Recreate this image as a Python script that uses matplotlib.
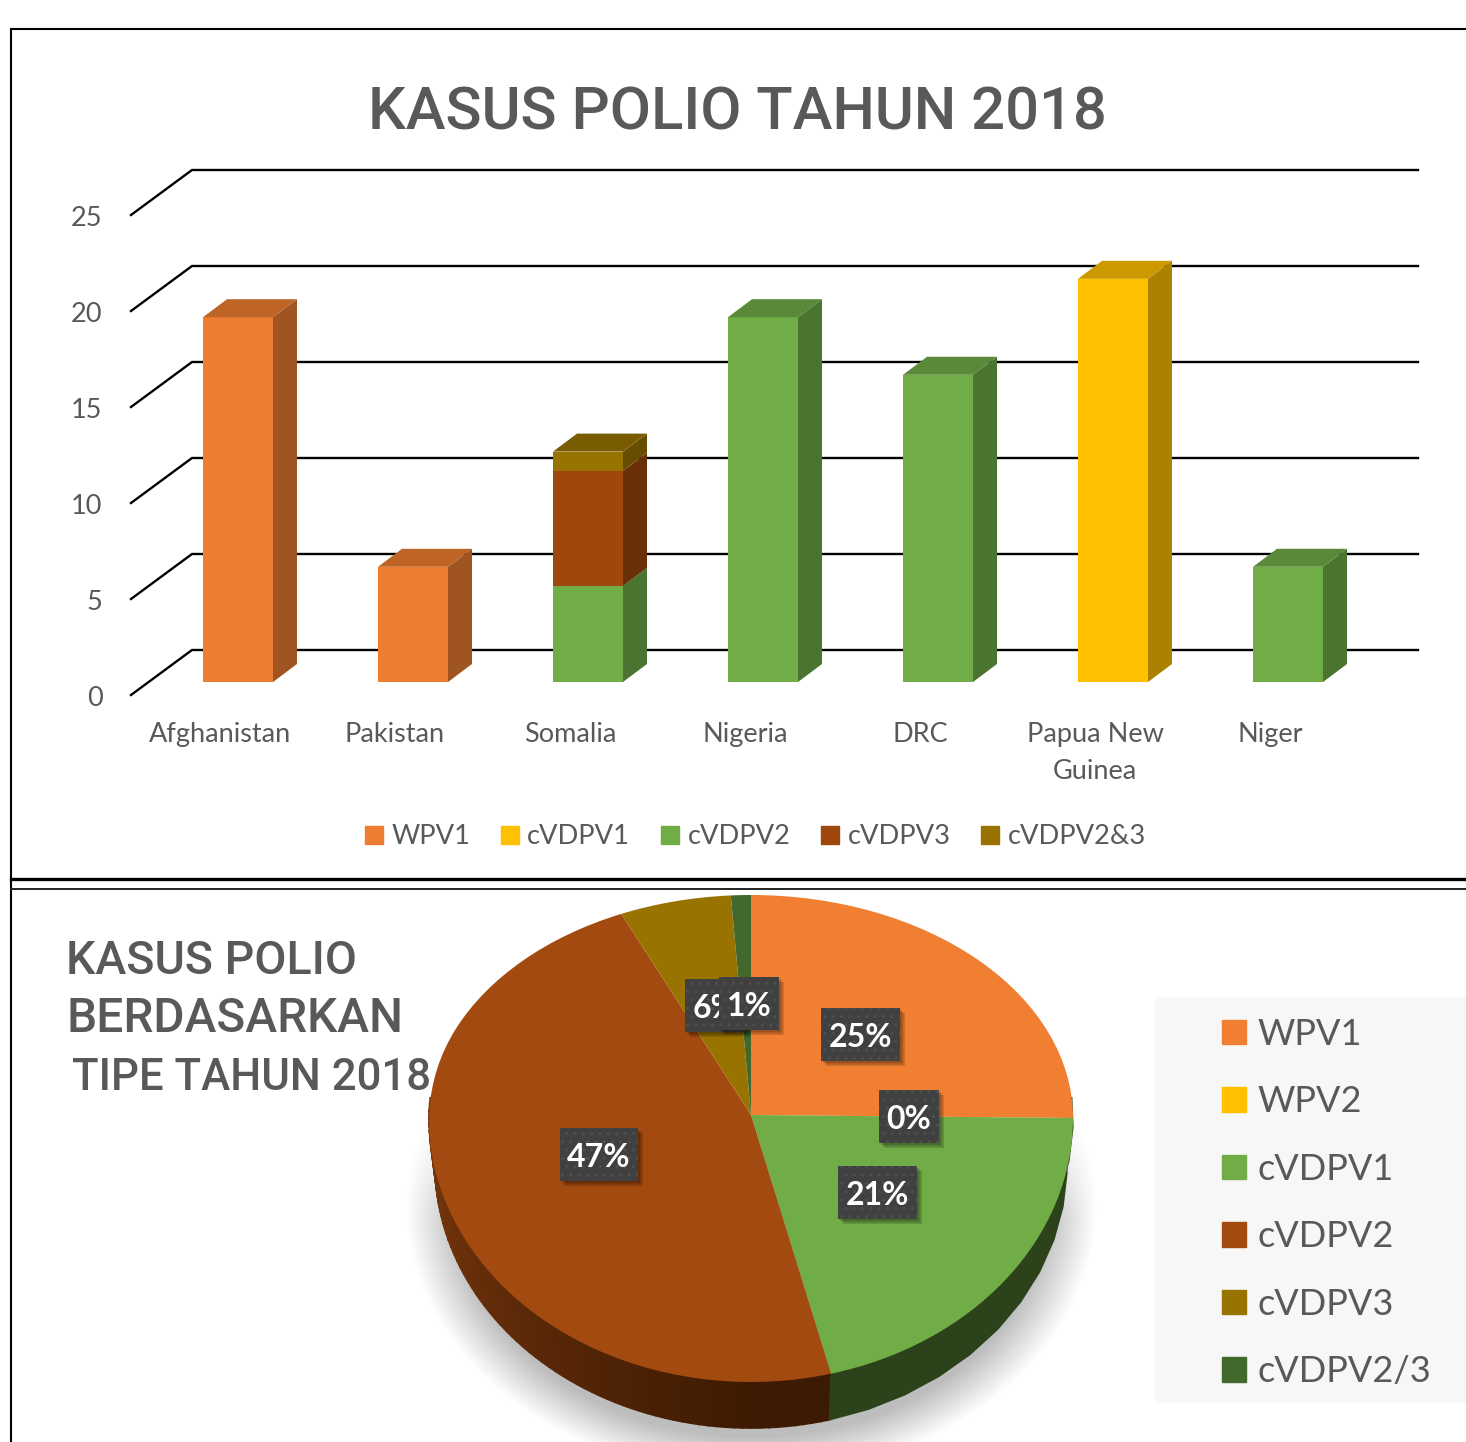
import numpy as np
import matplotlib
matplotlib.use("Agg")
import matplotlib.pyplot as plt
from matplotlib.patches import Patch, Rectangle
from matplotlib.colors import to_rgb
from matplotlib.transforms import ScaledTranslation

W, H = 1466, 1442
# ---------- data ----------
countries = ["Afghanistan", "Pakistan", "Somalia", "Nigeria", "DRC", "Papua New\nGuinea", "Niger"]
bar_series = ["WPV1", "cVDPV1", "cVDPV2", "cVDPV3", "cVDPV2&3"]
wpv1 = [19, 6, 0, 0, 0, 0, 0]
cvdpv1 = [0, 0, 0, 0, 0, 21, 0]
cvdpv2 = [0, 0, 5, 19, 16, 0, 6]
cvdpv3 = [0, 0, 6, 0, 0, 0, 0]
cvdpv23 = [0, 0, 1, 0, 0, 0, 0]
y_ticks = [0, 5, 10, 15, 20, 25]
pie_labels = ["WPV1", "WPV2", "cVDPV1", "cVDPV2", "cVDPV3", "cVDPV2/3"]
pie_values = [25, 0, 21, 47.4, 5.6, 1]

ORANGE, YELLOW, GREEN, BROWN, GOLD, DKGREEN = "#ED7D31", "#FFC000", "#70AD47", "#9E480E", "#997300", "#43682B"
bar_colors = [ORANGE, YELLOW, GREEN, BROWN, GOLD]
pie_colors = ["#F07F32", YELLOW, GREEN, "#A24A0F", GOLD, DKGREEN]
TXT = "#595959"
SANS = "Lato"
TITLE = "Roboto"

fig = plt.figure(figsize=(W / 100, H / 100), dpi=100, facecolor="white")

def axes_px(x0, y0, x1, y1, **kw):
    return fig.add_axes([x0 / W, 1 - y1 / H, (x1 - x0) / W, (y1 - y0) / H], **kw)

def shade(c, f):
    return tuple(v * f for v in to_rgb(c))

# ---------- overlay in pixel coordinates (frame, titles) ----------
bg = axes_px(0, 0, W, H, zorder=0)
bg.set_xlim(0, W); bg.set_ylim(H, 0); bg.axis("off")
bg.plot([11, W], [29, 29], color="black", lw=1.5)
bg.plot([11, 11], [29, H], color="black", lw=1.5)
bg.plot([11, W], [878.5, 878.5], color="black", lw=2.4)
bg.plot([11, W], [889, 889], color="#222222", lw=1.4)
bg.text(737, 130, "KASUS POLIO TAHUN 2018", ha="center", va="baseline", color=TXT,
        fontsize=43, family=TITLE, fontweight="medium")
for s, x, y, fs in [("KASUS POLIO", 66, 974, 33.5), ("BERDASARKAN", 66, 1032, 34.5), ("TIPE TAHUN 2018", 72, 1090, 31.5)]:
    bg.text(x, y, s, ha="left", va="baseline", color=TXT, fontsize=fs, family=TITLE, fontweight="medium")
bg.add_patch(Rectangle((1155, 997), W - 1155, 406, color="#f7f7f7", lw=0))

# ---------- bar chart ----------
PX_X, PX_Y = 175.0, 19.2
DX, DY = 24 / PX_X, 18 / PX_Y
X0 = 238          # pixel of first bar centre
BW = 70 / PX_X
FRONT = 13 / PX_Y  # front plane below the bar base
BACK = 32 / PX_Y   # back wall above the bar base
ax = axes_px(131, 170, 1418, 695, zorder=1)
ax.patch.set_alpha(0)
ax.set_xlim((131 - X0) / PX_X, (1418 - X0) / PX_X)
ax.set_ylim(-FRONT, (682 - 170) / PX_Y)
for s in ax.spines.values():
    s.set_visible(False)
idx = np.arange(len(countries))
ax.set_xticks(idx - 18 / PX_X, countries)
ax.set_yticks(np.array(y_ticks) - FRONT, [str(t) for t in y_ticks])
ax.tick_params(length=0, labelcolor=TXT, labelsize=19.5)
ax.tick_params(axis="y", pad=20.5)
ax.tick_params(axis="x", pad=19.5)
for lab in ax.get_xticklabels():
    lab.set_family(SANS)
    lab.set_linespacing(1.6)
for lab in ax.get_yticklabels():
    lab.set_family(SANS)
    lab.set_transform(lab.get_transform() + ScaledTranslation(0, -1.5 / 72 * 0.72, fig.dpi_scale_trans))
xl = ax.get_xlim()[0]
xr = ax.get_xlim()[1]
xback = xl + 61 / PX_X
for t in y_ticks:
    ax.plot([xl, xback, xr], [t - FRONT, t + BACK, t + BACK], color="black", lw=1.7, zorder=1,
            clip_on=False, solid_joinstyle="miter")

totals = np.sum([wpv1, cvdpv1, cvdpv2, cvdpv3, cvdpv23], axis=0)
bottom = np.zeros(len(countries))
for name, vals, col in zip(bar_series, [wpv1, cvdpv1, cvdpv2, cvdpv3, cvdpv23], bar_colors):
    vals = np.array(vals, float)
    ax.bar(idx, vals, BW, bottom=bottom, color=col, zorder=3, lw=0, label=name)
    for i in idx[vals > 0]:
        r = i + BW / 2
        b, t = bottom[i], bottom[i] + vals[i]
        ax.fill([r, r + DX, r + DX, r], [b, b + DY, t + DY, t], color=shade(col, .67), lw=0, zorder=3)
    bottom += vals
    for i in idx[vals > 0]:
        if bottom[i] == totals[i]:
            l, r = i - BW / 2, i + BW / 2
            t = bottom[i]
            ax.fill([l, r, r + DX, l + DX], [t, t, t + DY, t + DY], color=shade(col, .8), lw=0, zorder=3)

leg1 = bg.legend(handles=[Patch(color=c, label=n) for c, n in zip(bar_colors, bar_series)],
                 ncols=5, frameon=False, loc="center left", bbox_to_anchor=(357 / W, 1 - 837 / H),
                 prop={"family": SANS, "size": 19.6}, labelcolor=TXT, handlelength=0.66, handleheight=0.66,
                 handletextpad=0.3, columnspacing=1.14, borderaxespad=0, borderpad=0.3)

# ---------- pie ----------
SX, SY = 322.0, 264.0
CX, CY = 751, 1118
TOP_RATIO = 223 / 264
px = axes_px(400, 890, 1110, H, zorder=2)
wedges = px.pie(pie_values, colors=pie_colors, startangle=90, counterclock=False, radius=1,
                wedgeprops={"lw": 0, "zorder": 5})[0]
px.set_aspect("auto")
px.axis("off")
px.patch.set_alpha(0)
apex = (0, 3 / SY)
for w in wedges:
    p = w.get_path()
    v = np.array(p.vertices)
    m = np.hypot(v[:, 0], v[:, 1]) < 1e-6
    v[:, 1] = np.where(v[:, 1] > 0, v[:, 1] * TOP_RATIO, v[:, 1])
    v[m] = apex
    p.vertices = v

# wall of the pie
frac = np.cumsum(pie_values) / np.sum(pie_values) * 2 * np.pi
def rim(th, sx=1.0, off=0.0):
    th = np.asarray(th)
    return sx * np.sin(th), np.cos(th) * np.where(np.cos(th) > 0, TOP_RATIO, 1) - off
OFF = 46 / SY
LOW = 316 / 322
def wall(t0, t1, col):
    th = np.linspace(t0, t1, 12)
    x1, y1 = rim(th)
    x2, y2 = rim(th, LOW, OFF)
    px.fill(np.r_[x1, x2[::-1]], np.r_[y1, y2[::-1]], color=col, lw=1.2, zorder=3)
edges = np.linspace(np.pi * 1.53, frac[2], 70)
c_dark, c_light = np.array(to_rgb("#3d1a02")), np.array(to_rgb("#7e390e"))
for a, b in zip(edges[:-1], edges[1:]):
    t = (a - edges[-1]) / (edges[0] - edges[-1])
    wall(b, a, tuple(c_dark + (c_light - c_dark) * np.clip(t * 1.15 - 0.15, 0, 1)))
wall(np.pi * 0.47, frac[2], "#2b421a")

# soft shadow beneath
yy, xx = np.mgrid[890:H, 395:1110]
d = np.hypot((xx - 751) / 346, (yy - 1205) / 272)
alpha = np.clip((1.0 - d) / 0.15, 0, 1) * np.clip((yy - 1090) / 130, 0, 1) * 0.26
img = np.zeros(alpha.shape + (4,))
img[..., 3] = alpha
px.imshow(img, extent=[(395 - CX) / SX, (1110 - CX) / SX, (CY - H) / SY, (CY - 890) / SY],
          origin="upper", aspect="auto", zorder=1, interpolation="bilinear")
px.set_xlim((400 - CX) / SX, (1110 - CX) / SX)
px.set_ylim((CY - H) / SY, (CY - 890) / SY)

# data labels, stacked in paint order (overlay axes)
top = axes_px(0, 0, W, H, zorder=3)
top.set_xlim(0, W); top.set_ylim(H, 0); top.axis("off"); top.patch.set_alpha(0)
boxes = {"WPV1": (821, 1008, 79), "WPV2": (879, 1090, 60), "cVDPV1": (838, 1166, 79),
         "cVDPV2": (560, 1128, 78), "cVDPV3": (685, 979, 60), "cVDPV2/3": (719, 977, 60)}
for z, (lab, val) in enumerate(zip(pie_labels, pie_values)):
    x, y, w_ = boxes[lab]
    h_ = 53
    base = 10 + z * 3
    for k in range(6, 0, -1):
        top.add_patch(Rectangle((x + 1 + k * .7, y + 1 + k * .7), w_, h_, color="black", alpha=0.07, lw=0, zorder=base))
    top.add_patch(Rectangle((x, y), w_, h_, facecolor="#404040", edgecolor="#4e4e4e", hatch="..", lw=0, zorder=base + 1))
    top.text(x + w_ / 2, y + h_ / 2 + 3, f"{val:.0f}%", ha="center", va="center", color="white", fontsize=23,
             family=SANS, fontweight="bold", zorder=base + 2)

leg2 = top.legend(handles=[Patch(color=c, label=n) for c, n in zip(pie_colors, pie_labels)],
                  frameon=False, loc="upper left", bbox_to_anchor=(1211 / W, 1 - 1007 / H),
                  prop={"family": SANS, "size": 26}, labelcolor=TXT, handlelength=0.665, handleheight=0.665,
                  handletextpad=0.33, labelspacing=0.955, borderaxespad=0, borderpad=0.3)

fig.savefig("out.png", dpi=100)
